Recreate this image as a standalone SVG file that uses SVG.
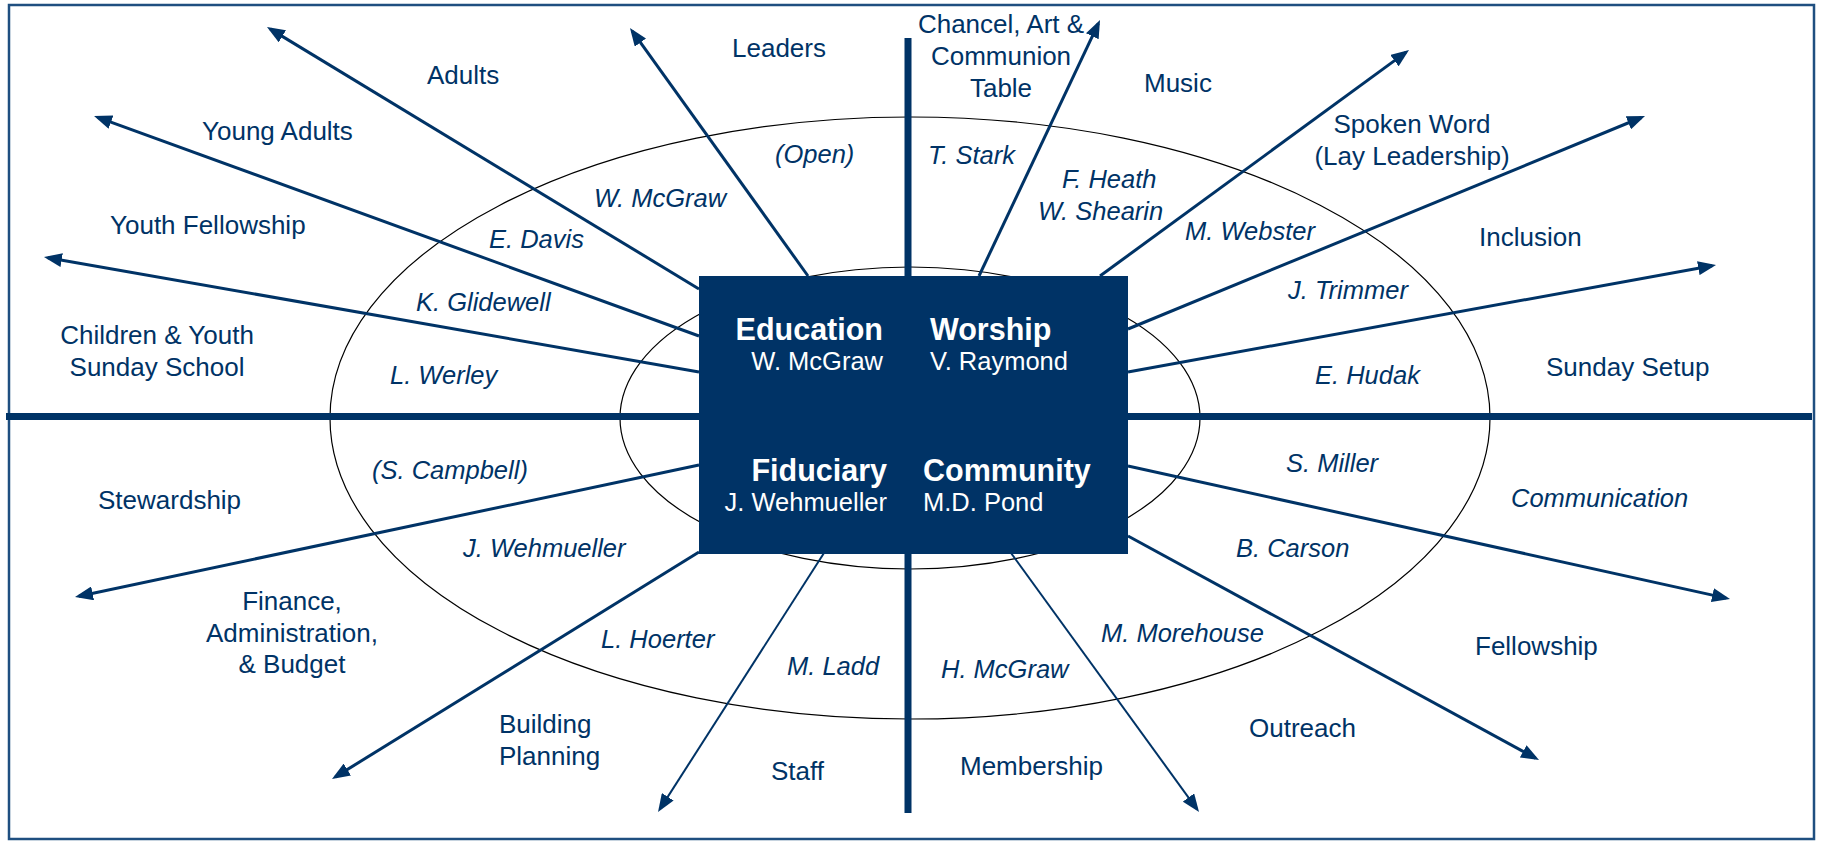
<svg xmlns="http://www.w3.org/2000/svg" width="1823" height="842" viewBox="0 0 1823 842">
<style>
  text { font-family: "Liberation Sans", Arial, sans-serif; fill: #003366; }
  .lab { font-size: 26px; }
  .nm { font-size: 25.5px; font-style: italic; }
  .ttl { font-size: 30.5px; font-weight: bold; fill: #ffffff; }
  .sub { font-size: 25.5px; fill: #ffffff; }
  .mid { text-anchor: middle; }
  .end { text-anchor: end; }
  .arrow { stroke: #003366; stroke-width: 3; fill: none; marker-end: url(#ah); }
  .thin { stroke-width: 2; }
  .ring { fill: none; stroke: #000000; stroke-width: 1.2; }
  .axis { stroke: #003366; stroke-width: 7; }
</style>
<defs>
  <marker id="ah" viewBox="0 0 18 14" refX="14" refY="7" markerWidth="18" markerHeight="14" markerUnits="userSpaceOnUse" orient="auto">
    <path d="M0,0 L18,7 L0,14 z" fill="#003366"/>
  </marker>
</defs>
<rect x="9" y="5" width="1805" height="834" fill="#ffffff" stroke="#1f4f80" stroke-width="2.5"/>

<g id="rings">
  <ellipse class="ring" cx="910" cy="418" rx="580" ry="301"/>
  <ellipse class="ring" cx="910" cy="418" rx="290" ry="151"/>
</g>

<g id="connectors">
  <line class="axis" x1="6" y1="416.5" x2="1812" y2="416.5"/>
  <line class="axis" x1="908" y1="38" x2="908" y2="813"/>
  <line class="arrow" x1="699" y1="289" x2="270.4" y2="29.1"/>
  <line class="arrow" x1="699" y1="336" x2="97.8" y2="117.4"/>
  <line class="arrow" x1="699" y1="372" x2="47.9" y2="257.7"/>
  <line class="arrow" x1="808" y1="276" x2="632.3" y2="31.2"/>
  <line class="arrow" x1="979" y1="276" x2="1098.3" y2="23.6"/>
  <line class="arrow" x1="1100" y1="276" x2="1405.8" y2="52.4"/>
  <line class="arrow" x1="1128" y1="329" x2="1641.3" y2="117.5"/>
  <line class="arrow" x1="1128" y1="372" x2="1712.1" y2="265.7"/>
  <line class="arrow" x1="699" y1="465" x2="78.9" y2="596.2"/>
  <line class="arrow" x1="699" y1="552" x2="335.4" y2="776.9"/>
  <line class="arrow thin" x1="824" y1="553" x2="660.2" y2="808.6"/>
  <line class="arrow thin" x1="1011" y1="553" x2="1196.7" y2="808.8"/>
  <line class="arrow" x1="1128" y1="466" x2="1726.1" y2="598.1"/>
  <line class="arrow" x1="1128" y1="536" x2="1535.5" y2="758.1"/>
</g>

<g id="hub">
  <rect x="699" y="276" width="429" height="278" fill="#003366"/>
</g>
<g id="education">
  <text class="ttl end" x="883" y="340">Education</text>
  <text class="sub end" x="883" y="370">W. McGraw</text>
</g>
<g id="worship">
  <text class="ttl" x="930" y="340">Worship</text>
  <text class="sub" x="930" y="370">V. Raymond</text>
</g>
<g id="fiduciary">
  <text class="ttl end" x="887" y="481">Fiduciary</text>
  <text class="sub end" x="887" y="511">J. Wehmueller</text>
</g>
<g id="community">
  <text class="ttl" x="923" y="481">Community</text>
  <text class="sub" x="923" y="511">M.D. Pond</text>
</g>

<g id="areas">
  <text class="lab" x="427" y="84">Adults</text>
  <text class="lab" x="202" y="140">Young Adults</text>
  <text class="lab" x="110" y="234">Youth Fellowship</text>
  <text class="lab mid" x="157" y="344">Children &amp; Youth</text>
  <text class="lab mid" x="157" y="376">Sunday School</text>
  <text class="lab" x="732" y="57">Leaders</text>
  <text class="lab mid" x="1001" y="33">Chancel, Art &amp;</text>
  <text class="lab mid" x="1001" y="65">Communion</text>
  <text class="lab mid" x="1001" y="97">Table</text>
  <text class="lab" x="1144" y="92">Music</text>
  <text class="lab mid" x="1412" y="133">Spoken Word</text>
  <text class="lab mid" x="1412" y="165">(Lay Leadership)</text>
  <text class="lab" x="1479" y="246">Inclusion</text>
  <text class="lab" x="1546" y="376">Sunday Setup</text>
  <text class="lab" x="98" y="509">Stewardship</text>
  <text class="lab mid" x="292" y="610">Finance,</text>
  <text class="lab mid" x="292" y="642">Administration,</text>
  <text class="lab mid" x="292" y="673">&amp; Budget</text>
  <text class="lab" x="499" y="733">Building</text>
  <text class="lab" x="499" y="765">Planning</text>
  <text class="lab" x="771" y="780">Staff</text>
  <text class="lab" x="960" y="775">Membership</text>
  <text class="lab" x="1249" y="737">Outreach</text>
  <text class="lab" x="1475" y="655">Fellowship</text>
  <text class="nm" x="1511" y="507">Communication</text>
</g>

<g id="names">
  <text class="nm" x="594" y="207">W. McGraw</text>
  <text class="nm" x="775" y="163">(Open)</text>
  <text class="nm" x="928" y="164">T. Stark</text>
  <text class="nm" x="1062" y="188">F. Heath</text>
  <text class="nm" x="1038" y="220">W. Shearin</text>
  <text class="nm" x="1185" y="240">M. Webster</text>
  <text class="nm" x="489" y="248">E. Davis</text>
  <text class="nm" x="416" y="311">K. Glidewell</text>
  <text class="nm" x="1288" y="299">J. Trimmer</text>
  <text class="nm" x="390" y="384">L. Werley</text>
  <text class="nm" x="1315" y="384">E. Hudak</text>
  <text class="nm" x="372" y="479">(S. Campbell)</text>
  <text class="nm" x="1286" y="472">S. Miller</text>
  <text class="nm" x="463" y="557">J. Wehmueller</text>
  <text class="nm" x="1236" y="557">B. Carson</text>
  <text class="nm" x="601" y="648">L. Hoerter</text>
  <text class="nm" x="1101" y="642">M. Morehouse</text>
  <text class="nm" x="787" y="675">M. Ladd</text>
  <text class="nm" x="941" y="678">H. McGraw</text>
</g>
</svg>
